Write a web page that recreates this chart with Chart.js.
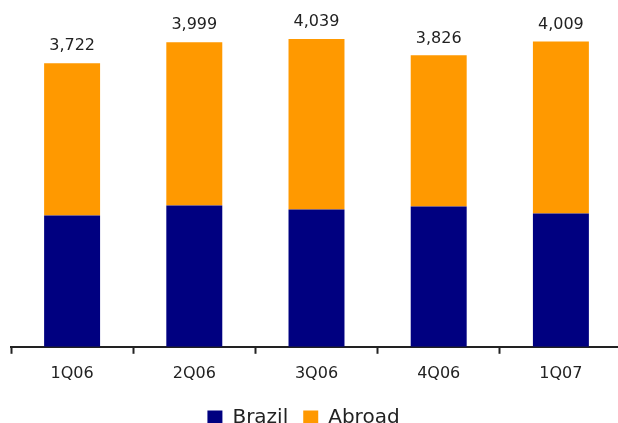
<!DOCTYPE html>
<html>
<head>
<meta charset="utf-8">
<script src="https://cdn.jsdelivr.net/npm/chart.js@4/dist/chart.umd.min.js"></script>
<style>
  html, body { margin: 0; padding: 0; background: #fff; overflow: hidden; }
  #wrap { width: 622px; height: 438px; }
</style>
</head>
<body>
<div id="wrap"><canvas id="sales-chart"></canvas></div>
<script>
// quarterly volumes, split by market
var quarters = ["1Q06", "2Q06", "3Q06", "4Q06", "1Q07"];
var brazil = [1723, 1854, 1802, 1841, 1749];
var abroad = [1999, 2145, 2237, 1985, 2260];
var totals = [3722, 3999, 4039, 3826, 4009];

// writes the total above each stacked column
var totalLabels = {
  id: "totalLabels",
  afterDatasetsDraw: function (chart) {
    var ctx = chart.ctx;
    var meta = chart.getDatasetMeta(1);
    ctx.save();
    ctx.font = "16px 'DejaVu Sans'";
    ctx.fillStyle = "#222";
    ctx.textAlign = "center";
    ctx.textBaseline = "bottom";
    meta.data.forEach(function (bar, i) {
      ctx.fillText(totals[i].toLocaleString("en-US"), bar.x, bar.y - 9);
    });
    ctx.restore();
  },
};

// nudge the legend a little to the left
var legendShift = {
  id: "legendShift",
  afterLayout: function (chart) {
    chart.legend.left -= 13;
    chart.legend.right -= 13;
  },
};

var ctx = document.getElementById("sales-chart").getContext("2d");
var mySalesChart = new Chart(ctx, {
  type: "bar",
  data: {
    labels: quarters,
    datasets: [
      {
        label: "Brazil",
        data: brazil,
        backgroundColor: "#000080",
        borderWidth: 0,
      },
      {
        label: "Abroad",
        data: abroad,
        backgroundColor: "#FF9900",
        borderWidth: 0,
      },
    ],
  },
  options: {
    responsive: true,
    maintainAspectRatio: false,
    animation: false,
    layout: {
      padding: { top: 4, left: 11, right: 0, bottom: 0 },
    },
    datasets: {
      bar: {
        barPercentage: 0.458,
        categoryPercentage: 1,
      },
    },
    scales: {
      x: {
        stacked: true,
        offset: true,
        grid: {
          offset: true,
          drawOnChartArea: false,
          tickLength: 7,
          tickWidth: 2,
          tickColor: "#222",
        },
        border: { color: "#222", width: 2 },
        ticks: {
          padding: 10,
          color: "#222",
          font: { family: "'DejaVu Sans'", size: 16 },
        },
      },
      y: {
        stacked: true,
        display: false,
        min: 0,
        max: 4500,
      },
    },
    plugins: {
      tooltip: { enabled: false },
      legend: {
        display: true,
        position: "bottom",
        labels: {
          boxWidth: 15,
          boxHeight: 15,
          padding: 15,
          color: "#222",
          font: { family: "'DejaVu Sans'", size: 20 },
        },
      },
    },
  },
  plugins: [totalLabels, legendShift],
});
</script>
</body>
</html>
